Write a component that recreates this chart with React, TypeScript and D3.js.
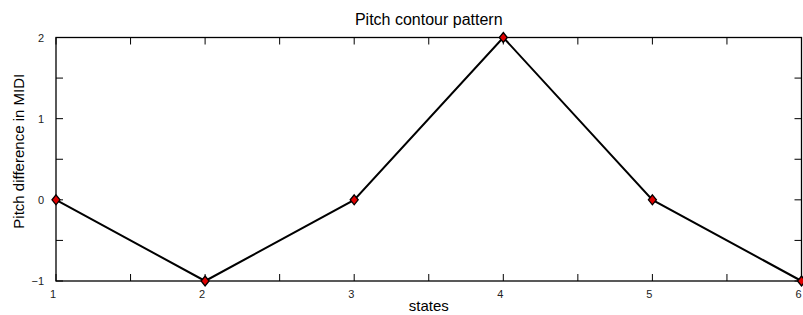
import { useEffect, useRef } from 'react';
import * as d3 from 'd3';

const states = [1, 2, 3, 4, 5, 6];
const pitchDiff = [0, -1, 0, 2, 0, -1];
const xTicks = [1, 2, 3, 4, 5, 6];
const yTicks = [-1, 0, 1, 2];

export default function App() {
  const svgRef = useRef<SVGSVGElement>(null);

  useEffect(() => {
    const svg = d3.select(svgRef.current);
    svg.selectAll('*').remove();

    const width = 803;
    const height = 315;
    const margin = { top: 37.5, right: 1.5, bottom: 34, left: 56 };
    const w = width - margin.left - margin.right;
    const h = height - margin.top - margin.bottom;
    const font = 'Liberation Sans, Arial, sans-serif';

    const x = d3.scaleLinear().domain([1, 6]).range([0, w]);
    const y = d3.scaleLinear().domain([-1, 2]).range([h, 0]);

    const g = svg.append('g').attr('transform', `translate(${margin.left},${margin.top})`);

    // frame
    g.append('rect')
      .attr('width', w).attr('height', h)
      .attr('fill', 'none').attr('stroke', '#000').attr('stroke-width', 1.3);

    // ticks every 0.5, pointing inward on all four sides
    const tl = 7;
    const xt = d3.range(1, 6.01, 0.5);
    const yt = d3.range(-1, 2.01, 0.5);
    xt.forEach(v => {
      g.append('line').attr('x1', x(v)).attr('x2', x(v)).attr('y1', h).attr('y2', h - tl).attr('stroke', '#000');
      g.append('line').attr('x1', x(v)).attr('x2', x(v)).attr('y1', 0).attr('y2', tl).attr('stroke', '#000');
    });
    yt.forEach(v => {
      g.append('line').attr('x1', 0).attr('x2', tl).attr('y1', y(v)).attr('y2', y(v)).attr('stroke', '#000');
      g.append('line').attr('x1', w).attr('x2', w - tl).attr('y1', y(v)).attr('y2', y(v)).attr('stroke', '#000');
    });

    // tick labels
    g.selectAll('.xl').data(xTicks).enter().append('text')
      .attr('x', d => x(d) - 3).attr('y', h + 17)
      .attr('text-anchor', 'middle')
      .style('font-family', font).style('font-size', '11px').style('fill', '#222')
      .text(d => String(d));

    g.selectAll('.yl').data(yTicks).enter().append('text')
      .attr('x', -12).attr('y', d => y(d) + 4)
      .attr('text-anchor', 'end')
      .style('font-family', font).style('font-size', '11px').style('fill', '#222')
      .text(d => (d < 0 ? '\u2212' + Math.abs(d) : String(d)));

    // line
    const data = states.map((s, i) => ({ s, v: pitchDiff[i] }));
    const line = d3.line<{ s: number; v: number }>().x(d => x(d.s)).y(d => y(d.v));
    g.append('path').datum(data)
      .attr('fill', 'none').attr('stroke', '#000').attr('stroke-width', 2)
      .attr('d', line);

    // diamond markers
    g.selectAll('.pt').data(data).enter().append('path')
      .attr('transform', d => `translate(${x(d.s)},${y(d.v)})`)
      .attr('d', 'M0,-5L4,0L0,5L-4,0Z')
      .attr('fill', '#e00000').attr('stroke', '#000').attr('stroke-width', 1.3);

    // title and axis labels
    svg.append('text')
      .attr('x', margin.left + w / 2).attr('y', 25)
      .attr('text-anchor', 'middle')
      .style('font-family', font).style('font-size', '16px')
      .text('Pitch contour pattern');

    svg.append('text')
      .attr('x', margin.left + w / 2).attr('y', 311)
      .attr('text-anchor', 'middle')
      .style('font-family', font).style('font-size', '15px')
      .text('states');

    svg.append('text')
      .attr('transform', `translate(24,${margin.top + h / 2 - 8}) rotate(-90)`)
      .attr('text-anchor', 'middle')
      .style('font-family', font).style('font-size', '15px')
      .text('Pitch difference in MIDI');
  }, []);

  return (
    <svg ref={svgRef} width={803} height={315}
      style={{ position: 'absolute', left: 0, top: 0, background: '#fff' }} />
  );
}
